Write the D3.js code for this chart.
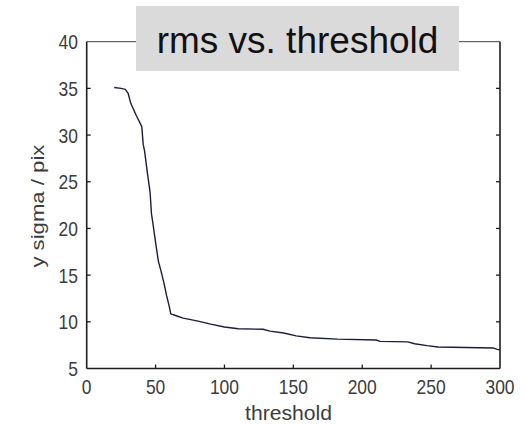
<!DOCTYPE html>
<html>
<head>
<meta charset="utf-8">
<script src="https://cdn.jsdelivr.net/npm/d3@7"></script>
<style>
  html, body { margin: 0; padding: 0; background: #fff; }
  svg { display: block; }
</style>
</head>
<body>
<svg id="chart" width="526" height="425"></svg>
<script>
// rms of y position versus detection threshold
const threshold = [20, 25, 28, 30, 32, 36, 40, 41, 42, 44, 46, 47, 48, 50, 52, 54, 56, 58, 60, 61,
                   65, 70, 80, 90, 100, 110, 128, 133, 143, 152, 162, 182, 210, 213, 233, 238, 247, 255, 295, 298, 300];
const sigma = [35.1, 35.0, 34.9, 34.5, 33.4, 32.1, 30.9, 29.0, 28.3, 26.0, 23.9, 21.6, 20.6, 18.5, 16.5, 15.4, 14.2, 12.8, 11.6, 10.85,
               10.65, 10.4, 10.1, 9.75, 9.45, 9.25, 9.2, 9.0, 8.8, 8.5, 8.3, 8.15, 8.05, 7.9, 7.85, 7.65, 7.45, 7.3, 7.2, 7.05, 7.0];
const xTicks = [0, 50, 100, 150, 200, 250, 300];
const yTicks = [5, 10, 15, 20, 25, 30, 35, 40];
const titleText = "rms vs. threshold";
const xLabel = "threshold";
const yLabel = "y sigma / pix";

const svg = d3.select("#chart");
const m = { left: 86.7, right: 500, top: 41.7, bottom: 368.5 };

const x = d3.scaleLinear().domain([0, 300]).range([m.left, m.right]);
const y = d3.scaleLinear().domain([5, 40]).range([m.bottom, m.top]);

const tickFont = "'Liberation Sans', Arial, sans-serif";
const axisColor = "#1e1e1e";
const labelColor = "#3c3c3c";
const tickLen = 4;
const digitW = 9.7; // narrow digit advance

// Frame
const g = svg.append("g");
g.append("line").attr("x1", m.left).attr("x2", m.right).attr("y1", m.top).attr("y2", m.top)
  .attr("stroke", "#6a6a6a").attr("stroke-width", 1.2);
g.append("line").attr("x1", m.left).attr("x2", m.right).attr("y1", m.bottom).attr("y2", m.bottom)
  .attr("stroke", axisColor).attr("stroke-width", 1.6);
g.append("line").attr("x1", m.left).attr("x2", m.left).attr("y1", m.top).attr("y2", m.bottom)
  .attr("stroke", axisColor).attr("stroke-width", 1.6);
g.append("line").attr("x1", m.right).attr("x2", m.right).attr("y1", m.top).attr("y2", m.bottom)
  .attr("stroke", axisColor).attr("stroke-width", 1.6);

// Inward ticks on all four sides
xTicks.slice(1, -1).forEach(v => {
  g.append("line").attr("x1", x(v)).attr("x2", x(v)).attr("y1", m.bottom).attr("y2", m.bottom - tickLen)
    .attr("stroke", axisColor).attr("stroke-width", 1.3);
  g.append("line").attr("x1", x(v)).attr("x2", x(v)).attr("y1", m.top).attr("y2", m.top + tickLen)
    .attr("stroke", axisColor).attr("stroke-width", 1.3);
});
yTicks.slice(1, -1).forEach(v => {
  g.append("line").attr("x1", m.left).attr("x2", m.left + tickLen).attr("y1", y(v)).attr("y2", y(v))
    .attr("stroke", axisColor).attr("stroke-width", 1.3);
  g.append("line").attr("x1", m.right).attr("x2", m.right - tickLen).attr("y1", y(v)).attr("y2", y(v))
    .attr("stroke", axisColor).attr("stroke-width", 1.3);
});

// Tick labels (condensed digits)
g.selectAll(".xt").data(xTicks).enter().append("text")
  .attr("x", d => x(d)).attr("y", 394)
  .attr("text-anchor", "middle")
  .attr("font-family", tickFont).attr("font-size", 21).attr("fill", labelColor)
  .attr("textLength", d => String(d).length * digitW)
  .attr("lengthAdjust", "spacingAndGlyphs")
  .text(d => d);
g.selectAll(".yt").data(yTicks).enter().append("text")
  .attr("x", d => 78 - String(d).length * digitW / 2).attr("y", d => y(d) + 7.5)
  .attr("text-anchor", "middle")
  .attr("font-family", tickFont).attr("font-size", 21).attr("fill", labelColor)
  .attr("textLength", d => String(d).length * digitW)
  .attr("lengthAdjust", "spacingAndGlyphs")
  .text(d => d);

// Axis titles
g.append("text")
  .attr("x", 288.5).attr("y", 420)
  .attr("text-anchor", "middle")
  .attr("font-family", tickFont).attr("font-size", 20).attr("fill", labelColor)
  .attr("textLength", 87).attr("lengthAdjust", "spacingAndGlyphs")
  .text(xLabel);
g.append("text")
  .attr("transform", "translate(44," + ((m.top + m.bottom) / 2 + 1) + ") rotate(-90)")
  .attr("text-anchor", "middle")
  .attr("font-family", tickFont).attr("font-size", 19).attr("fill", labelColor)
  .attr("textLength", 123).attr("lengthAdjust", "spacingAndGlyphs")
  .text(yLabel);

// Curve
const line = d3.line().x((d, i) => x(threshold[i])).y(d => y(d));
g.append("path")
  .attr("d", line(sigma))
  .attr("fill", "none")
  .attr("stroke", "#1c1c3c")
  .attr("stroke-width", 1.4)
  .attr("stroke-linejoin", "round");

// Title box
g.append("rect")
  .attr("x", 136).attr("y", 6).attr("width", 323).attr("height", 65)
  .attr("fill", "#dadada");
g.append("text")
  .attr("x", 297.5).attr("y", 53)
  .attr("text-anchor", "middle")
  .attr("font-family", "'Liberation Sans', Arial, sans-serif")
  .attr("font-size", 37).attr("fill", "#111")
  .text(titleText);
</script>
</body>
</html>
